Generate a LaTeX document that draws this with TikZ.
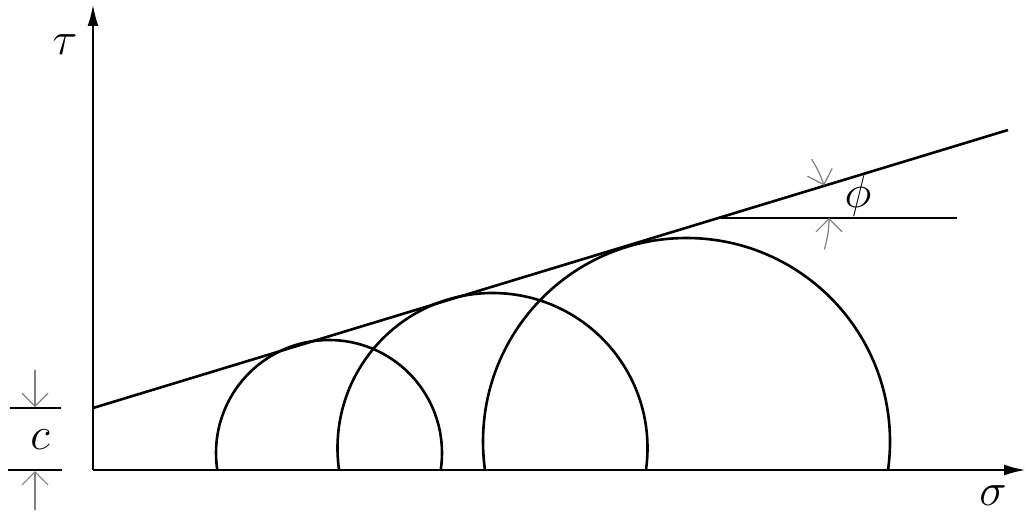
\documentclass[tikz,border=0pt]{standalone}
\usepackage{graphicx}
\usetikzlibrary{arrows.meta,calc}
\newcommand{\biglbl}[1]{\scalebox{1.85}{\Huge$#1$}}
\begin{document}
\begin{tikzpicture}[x=1pt,y=-1pt,
  axisline/.style={line width=2.6pt,-{Latex[length=22pt,width=11pt]}},
  mainline/.style={line width=2.6pt},
  dimline/.style={line width=1.2pt,draw=black!50,-{Straight Barb[length=13pt,width=26pt]}},
  lbl/.style={inner sep=0pt}]
\useasboundingbox (0,0) rectangle (1030,513);
% axes
\coordinate (O) at (93,470);
\coordinate (Ytop) at (93,4);
\coordinate (Xend) at (1026,470);
\draw[axisline] (O) -- (Ytop);
\draw[axisline] (O) -- (Xend);
% circles, clipped above the sigma axis
\begin{scope}
  \clip (0,0) rectangle (1030,470);
  \draw[mainline] (329,453) circle[radius=113];
  \draw[mainline] (492.5,448) circle[radius=155];
  \draw[mainline] (686.5,441.5) circle[radius=203.5];
\end{scope}
% failure envelope
\coordinate (C0) at (93,408);
\coordinate (Lend) at (1008,130);
\draw[mainline] (C0) -- (Lend);
% phi construction
\coordinate (V) at (721,218);
\coordinate (H) at (957,218);
\draw[mainline] (V) -- (H);
\draw[dimline] ($(V)+(-33:108)$) arc[start angle=-33,end angle=-17.5,radius=108];
\draw[dimline] ($(V)+(17:108)$) arc[start angle=17,end angle=0,radius=108];
% c dimension
\coordinate (cT1) at (10,408);
\coordinate (cT2) at (61,408);
\coordinate (cB1) at (8,470);
\coordinate (cB2) at (62,470);
\draw[mainline] (cT1) -- (cT2);
\draw[mainline] (cB1) -- (cB2);
\coordinate (cA1) at (35,370);
\coordinate (cA1t) at (35,407);
\coordinate (cA2) at (35,510);
\coordinate (cA2t) at (35,471);
\draw[dimline] (cA1) -- (cA1t);
\draw[dimline] (cA2) -- (cA2t);
% labels
\node[lbl] (tau) at (65,45) {\biglbl{\tau}};
\node[lbl] (sigma) at (993,496) {\biglbl{\sigma}};
\node[lbl] (c) at (40,440) {\biglbl{c}};
\node[lbl] (phi) at (858,196) {\biglbl{\phi}};
\end{tikzpicture}
\end{document}
